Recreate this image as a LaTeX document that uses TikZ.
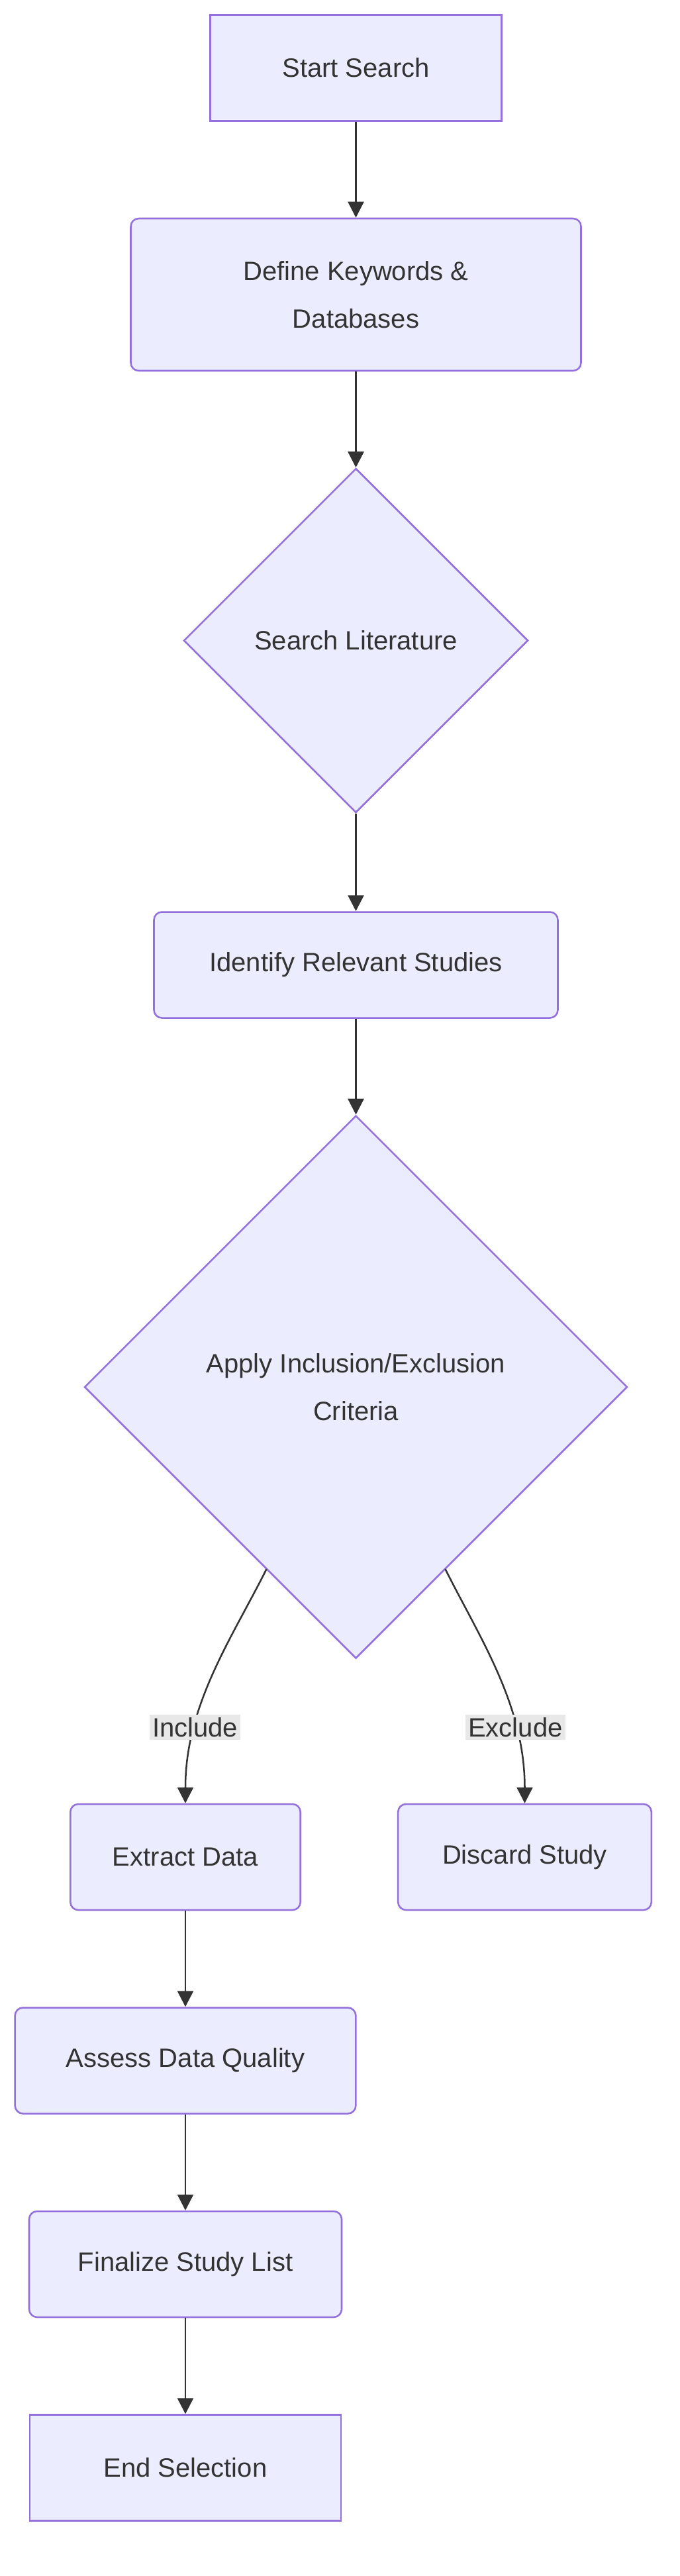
\documentclass[tikz,border=0pt]{standalone}
\usepackage{fontspec}
\setmainfont{Liberation Sans}
\usetikzlibrary{shapes.geometric,arrows.meta}
\definecolor{nfill}{HTML}{ECECFF}
\definecolor{nstroke}{HTML}{9370DB}
\definecolor{lnk}{HTML}{333333}
\definecolor{lbg}{HTML}{E8E8E8}
\definecolor{txt}{HTML}{333333}
\begin{document}
\begin{tikzpicture}[x=1.875pt,y=-1.875pt,
  base/.style={fill=nfill,draw=nstroke,line width=1.9pt,text=txt,font=\fontsize{30}{54}\selectfont,align=center,inner sep=0pt},
  sbox/.style={base,rectangle,minimum height=120pt},
  rbox/.style={base,rectangle,rounded corners=9pt,minimum height=120pt},
  dia/.style={base,diamond,aspect=1},
  lab/.style={fill=lbg,text=txt,font=\fontsize{30}{36}\selectfont,inner sep=3pt},
  arr/.style={draw=lnk,line width=1.9pt,-{Triangle[length=18pt,width=18pt]}}]
\useasboundingbox (0,0) rectangle (410.4,1556.4);
\node[sbox,minimum width=330pt] (start) at (215,41) {Start Search};
\node[rbox,minimum width=510pt,minimum height=172.5pt] (def) at (215,178) {Define Keywords \&\\Databases};
\node[dia,minimum width=390pt,minimum height=390pt] (lit) at (215,387) {Search Literature};
\node[rbox,minimum width=457.5pt] (ident) at (215,583) {Identify Relevant Studies};
\node[dia,minimum width=615pt,minimum height=615pt] (app) at (215,838) {Apply Inclusion/Exclusion\\Criteria};
\node[rbox,minimum width=260.6pt] (ext) at (112,1122) {Extract Data};
\node[rbox,minimum width=287pt] (dis) at (317,1122) {Discard Study};
\node[rbox,minimum width=386pt] (ass) at (112,1245) {Assess Data Quality};
\node[rbox,minimum width=354pt] (fin) at (112,1368) {Finalize Study List};
\node[sbox,minimum width=352.5pt] (end) at (112,1491) {End Selection};
\coordinate (ai) at (161,948);
\coordinate (ae) at (269,948);
\draw[arr] (start) -- (def);
\draw[arr] (def) -- (lit);
\draw[arr] (lit) -- (ident);
\draw[arr] (ident) -- (app);
\draw[arr] (ai) .. controls (140,990) and (112,1030) .. (ext.north) node[lab,pos=0.72] (li) {Include};
\draw[arr] (ae) .. controls (290,990) and (317,1030) .. (dis.north) node[lab,pos=0.72] (le) {Exclude};
\draw[arr] (ext) -- (ass);
\draw[arr] (ass) -- (fin);
\draw[arr] (fin) -- (end);
\end{tikzpicture}
\end{document}
